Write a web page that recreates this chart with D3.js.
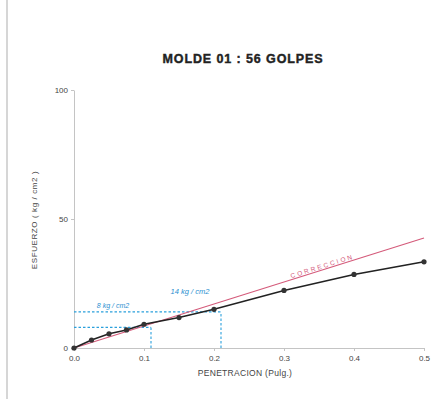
<!DOCTYPE html>
<html>
<head>
<meta charset="utf-8">
<script src="https://cdn.jsdelivr.net/npm/d3@7"></script>
<style>
  html, body { margin: 0; padding: 0; background: #fff; }
  svg { display: block; font-family: "Liberation Sans", Arial, sans-serif; }
</style>
</head>
<body>
<svg id="chart" width="437" height="399"></svg>
<script>
// Penetración (pulg.) and measured esfuerzo (kg/cm2)
const penetration = [0, 0.025, 0.05, 0.075, 0.1, 0.15, 0.2, 0.3, 0.4, 0.5];
const stress = [0, 3.1, 5.5, 7.0, 9.2, 11.8, 15.0, 22.3, 28.5, 33.4];

// Corrected curve (straight line)
const correctionX = [0, 0.5];
const correctionY = [0, 42.6];

// Reading lines at 0.1" and 0.2"
const readX = [0.11, 0.21];
const readY = [8, 14];
const readLabels = ["8 kg / cm2", "14 kg / cm2"];

const xTicks = [0, 0.1, 0.2, 0.3, 0.4, 0.5];
const yTicks = [0, 50, 100];

const svg = d3.select("#chart");
const x = d3.scaleLinear().domain([0, 0.5]).range([74, 424]);
const y = d3.scaleLinear().domain([0, 100]).range([348, 90]);

// page edge
svg.append("line").attr("x1", 7).attr("x2", 7).attr("y1", 0).attr("y2", 399)
  .attr("stroke", "#d6d6d6").attr("stroke-width", 2);

// title
svg.append("text").attr("x", 243).attr("y", 63).attr("text-anchor", "middle")
  .attr("font-size", 12.5).attr("font-weight", "bold").attr("fill", "#222")
  .attr("letter-spacing", 0.9).attr("stroke", "#222").attr("stroke-width", 0.4)
  .text("MOLDE 01 : 56 GOLPES");

// axes
const xAxis = svg.append("g").attr("transform", `translate(0,${y(0)})`)
  .call(d3.axisBottom(x).tickValues(xTicks).tickFormat(d3.format(".1f")).tickSize(3).tickSizeOuter(0));
const yAxis = svg.append("g").attr("transform", `translate(${x(0)},0)`)
  .call(d3.axisLeft(y).tickValues(yTicks).tickSize(3).tickSizeOuter(0));
[xAxis, yAxis].forEach(g => {
  g.select(".domain").attr("stroke", "#c4c4c4");
  g.selectAll(".tick line").attr("stroke", "#c4c4c4");
  g.selectAll(".tick text").attr("fill", "#444").attr("font-size", 8)
    .attr("font-family", "Liberation Sans, Arial, sans-serif");
});
xAxis.selectAll(".tick text").attr("dy", "0.85em");

// axis titles
svg.append("text").attr("x", 245).attr("y", 376).attr("text-anchor", "middle")
  .attr("font-size", 8.5).attr("letter-spacing", 0.3).attr("fill", "#444").text("PENETRACION (Pulg.)");
svg.append("text").attr("transform", "translate(37,220) rotate(-90)")
  .attr("text-anchor", "middle").attr("font-size", 8).attr("letter-spacing", 0.6).attr("fill", "#444")
  .text("ESFUERZO ( kg / cm2 )");

// reading lines (dashed)
const blue = "#2aa0dc";
readX.forEach((rx, i) => {
  svg.append("line").attr("x1", x(0)).attr("x2", x(rx))
    .attr("y1", y(readY[i])).attr("y2", y(readY[i]))
    .attr("stroke", blue).attr("stroke-width", 1.1).attr("stroke-dasharray", "2.5,2");
  svg.append("line").attr("x1", x(rx)).attr("x2", x(rx))
    .attr("y1", y(0)).attr("y2", y(readY[i]))
    .attr("stroke", blue).attr("stroke-width", 1.1).attr("stroke-dasharray", "2.5,2");
});
svg.append("text").attr("x", 113).attr("y", 308).attr("text-anchor", "middle")
  .attr("font-size", 7).attr("font-style", "italic").attr("fill", "#2a8fd0")
  .text(readLabels[0]);
svg.append("text").attr("x", 190).attr("y", 294).attr("text-anchor", "middle")
  .attr("font-size", 7.5).attr("font-style", "italic").attr("fill", "#2a8fd0")
  .text(readLabels[1]);

// corrected line
const red = "#d45a7a";
svg.append("line")
  .attr("x1", x(correctionX[0])).attr("y1", y(correctionY[0]))
  .attr("x2", x(correctionX[1])).attr("y2", y(correctionY[1]))
  .attr("stroke", red).attr("stroke-width", 1.1);
const ang = Math.atan2(y(correctionY[1]) - y(correctionY[0]), x(correctionX[1]) - x(correctionX[0])) * 180 / Math.PI;
const tx = 323, tyLine = y(0) + (y(correctionY[1]) - y(0)) * (x.invert(tx) / correctionX[1]);
svg.append("text")
  .attr("transform", `translate(${tx},${tyLine - 1.5}) rotate(${ang})`)
  .attr("text-anchor", "middle").attr("font-size", 6.5).attr("letter-spacing", 2.2)
  .attr("fill", red).text("CORRECCION");

// measured curve
const pts = penetration.map((p, i) => [p, stress[i]]);
svg.append("path").datum(pts)
  .attr("d", d3.line().x(d => x(d[0])).y(d => y(d[1])))
  .attr("fill", "none").attr("stroke", "#222").attr("stroke-width", 1.6);
svg.selectAll("circle.pt").data(pts).enter().append("circle")
  .attr("class", "pt").attr("cx", d => x(d[0])).attr("cy", d => y(d[1]))
  .attr("r", 2.6).attr("fill", "#333");
</script>
</body>
</html>
